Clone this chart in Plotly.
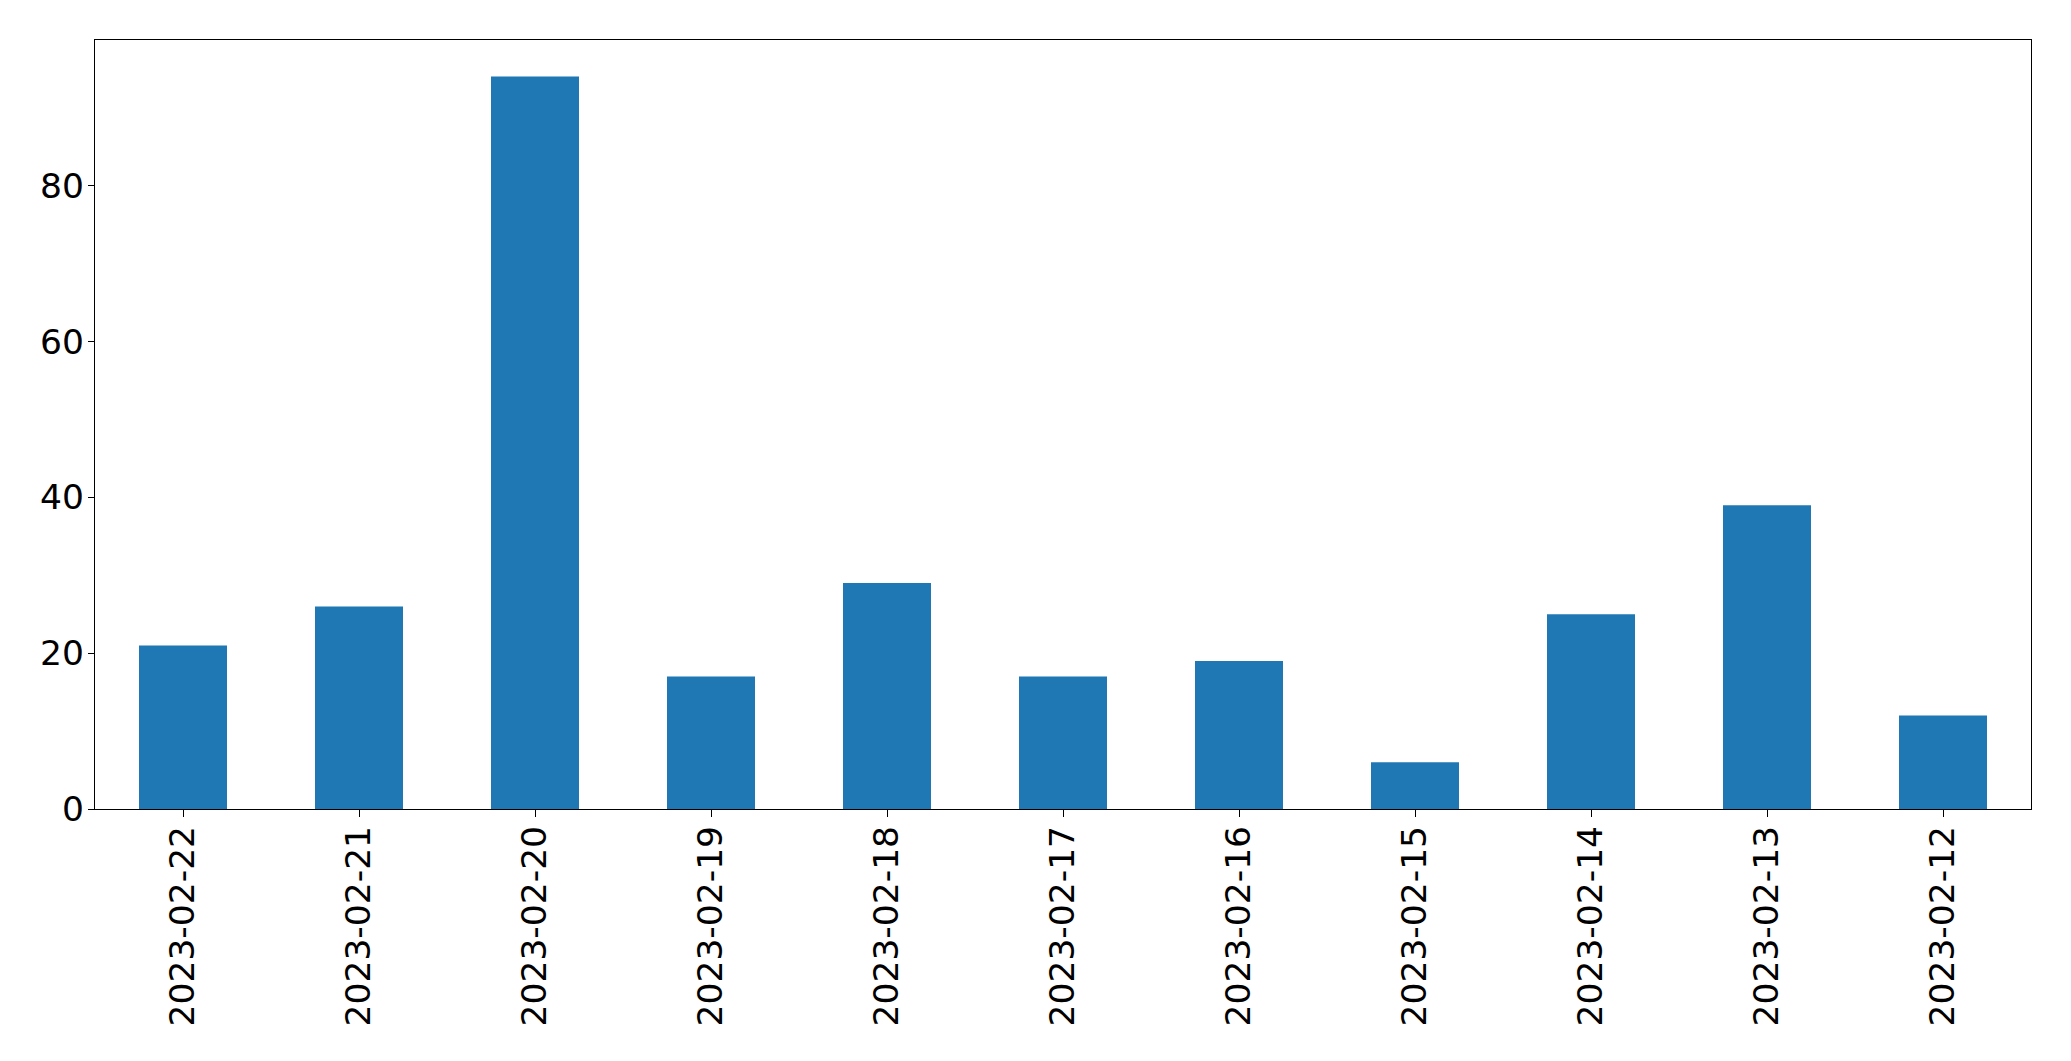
import plotly.graph_objects as go

dates = ["2023-02-22", "2023-02-21", "2023-02-20", "2023-02-19", "2023-02-18",
         "2023-02-17", "2023-02-16", "2023-02-15", "2023-02-14", "2023-02-13", "2023-02-12"]
counts = [21, 26, 94, 17, 29, 17, 19, 6, 25, 39, 12]
y_ticks = [0, 20, 40, 60, 80]

fig = go.Figure(go.Bar(x=dates, y=counts, marker=dict(color="#1f77b4", line=dict(width=0)), width=0.5))

font = dict(family="DejaVu Sans", size=34.5, color="black")
fig.update_layout(
    width=2063, height=1053,
    margin=dict(l=86.5, r=39.5, t=31.5, b=252, autoexpand=False),
    paper_bgcolor="white", plot_bgcolor="white",
    showlegend=False, font=font,
)
fig.update_xaxes(type="category", range=[-0.5, len(dates) - 0.5], tickangle=-90,
                 showline=True, linecolor="black", linewidth=1.3, mirror=True,
                 ticks="outside", ticklen=7, tickwidth=1.3, tickcolor="black",
                 ticklabelstandoff=-5,
                 showgrid=False, zeroline=False, tickfont=font)
fig.update_yaxes(range=[0, max(counts) * 1.05], tickvals=y_ticks,
                 showline=True, linecolor="black", linewidth=1.3, mirror=True,
                 ticks="outside", ticklen=6, tickwidth=1.3, tickcolor="black",
                 ticklabelstandoff=-3,
                 showgrid=False, zeroline=False, tickfont=font)

fig.write_html("out.html")
